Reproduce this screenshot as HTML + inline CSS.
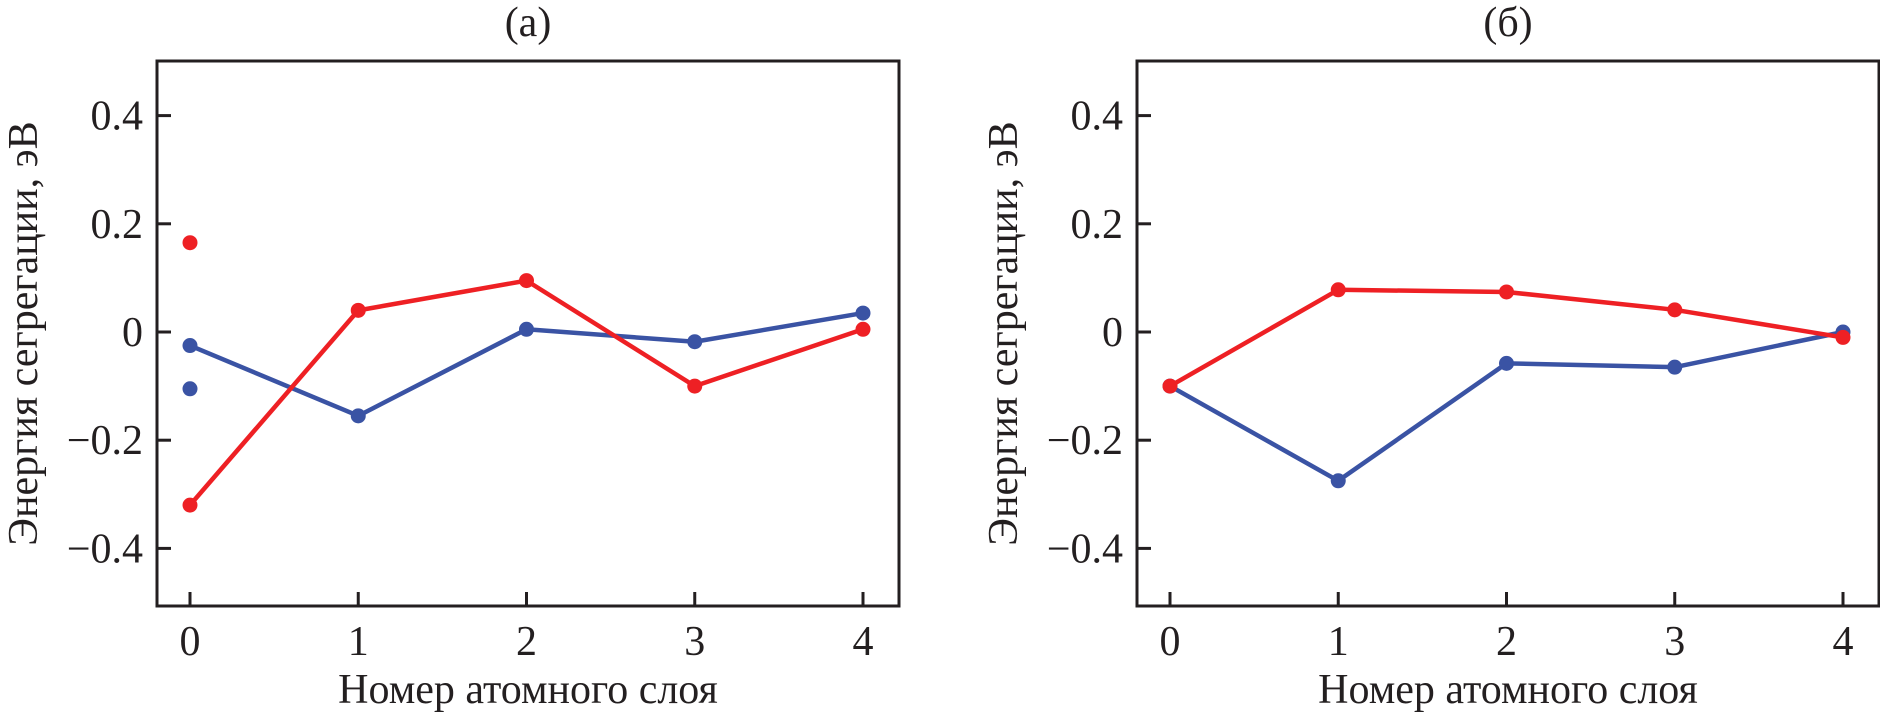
<!DOCTYPE html>
<html><head><meta charset="utf-8"><style>
html,body{margin:0;padding:0;background:#fff;}
svg{display:block;}
text{font-family:"Liberation Serif","DejaVu Serif",serif;}
</style></head><body>
<svg id="chart" width="1880" height="715" viewBox="0 0 1880 715"></svg>
<script>
const categories=[0,1,2,3,4];
const yTicks=[0.4,0.2,0,-0.2,-0.4];
const yTickLabels=["0.4","0.2","0","\u22120.2","\u22120.4"];
const redA=[-0.32,0.04,0.095,-0.10,0.005];
const blueA=[-0.025,-0.155,0.005,-0.018,0.035];
const redAExtra=[0.165];
const blueAExtra=[-0.105];
const redB=[-0.10,0.078,0.074,0.041,-0.01];
const blueB=[-0.10,-0.275,-0.058,-0.065,0.0];
const panelTitles=["(a)","(\u0431)"];

const NS="http://www.w3.org/2000/svg";
const FONT='"Liberation Serif","DejaVu Serif",serif';
const svg=document.getElementById('chart');
function el(tag,attrs,parent){const e=document.createElementNS(NS,tag);for(const k in attrs)e.setAttribute(k,attrs[k]);if(tag==='text')e.setAttribute('font-family',FONT);(parent||svg).appendChild(e);return e;}
const RED="#ee2024",BLUE="#3a53a4";
function panel(left,title,series,extras,name){
  const g=el('g',{});
  
  
  const right=left+742,top=61,bottom=606;
  const x0=left+33,ux=168.25;
  const X=v=>x0+v*ux, Y=v=>332-v*541;
  const frame=el('rect',{x:left,y:top,width:right-left,height:bottom-top,fill:'none',stroke:'#231f20','stroke-width':3},g);
  
  
  yTicks.forEach((t,i)=>{
    const tk=el('line',{x1:left,x2:left+14,y1:Y(t),y2:Y(t),stroke:'#231f20','stroke-width':3},g);
    
    
    const tl=el('text',{x:left-14,y:Y(t)+14,'text-anchor':'end','font-size':42,fill:'#231f20'},g);
    tl.textContent=yTickLabels[i];
    
    
  });
  categories.forEach(c=>{
    const tk=el('line',{x1:X(c),x2:X(c),y1:bottom,y2:bottom-14,stroke:'#231f20','stroke-width':3},g);
    
    
    const tl=el('text',{x:X(c),y:655,'text-anchor':'middle','font-size':42,fill:'#231f20'},g);
    tl.textContent=String(c);
    
    
  });
  const tt=el('text',{x:(left+right)/2,y:36,'text-anchor':'middle','font-size':42,fill:'#231f20'},g);
  tt.textContent=title;
  
  
  const xt=el('text',{x:(left+right)/2,y:703,'text-anchor':'middle','font-size':42,fill:'#231f20'},g);
  xt.textContent='Номер атомного слоя';
  
  
  const cy=(top+bottom)/2;
  const yt=el('text',{x:left-120,y:cy,'text-anchor':'middle','font-size':42,fill:'#231f20',transform:`rotate(-90 ${left-120} ${cy})`},g);
  yt.textContent='Энергия сегрегации, эВ';
  
  
  series.forEach(([vals,col,nm])=>{
    const pl=el('polyline',{points:vals.map((v,i)=>X(categories[i])+','+Y(v)).join(' '),fill:'none',stroke:col,'stroke-width':4.5,'stroke-linejoin':'round'},g);
    
    
    vals.forEach((v,i)=>{
      const c=el('circle',{cx:X(categories[i]),cy:Y(v),r:7.5,fill:col},g);
      
      
    });
  });
  extras.forEach(([vals,col,nm])=>{
    vals.forEach(v=>{
      const c=el('circle',{cx:X(0),cy:Y(v),r:7.5,fill:col},g);
      
      
    });
  });
}
panel(157,panelTitles[0],[[blueA,BLUE,'blue-series'],[redA,RED,'red-series']],[[redAExtra,RED,'red-series'],[blueAExtra,BLUE,'blue-series']],'panel-a');
panel(1137,panelTitles[1],[[blueB,BLUE,'blue-series'],[redB,RED,'red-series']],[],'panel-b');
</script>
</body></html>
